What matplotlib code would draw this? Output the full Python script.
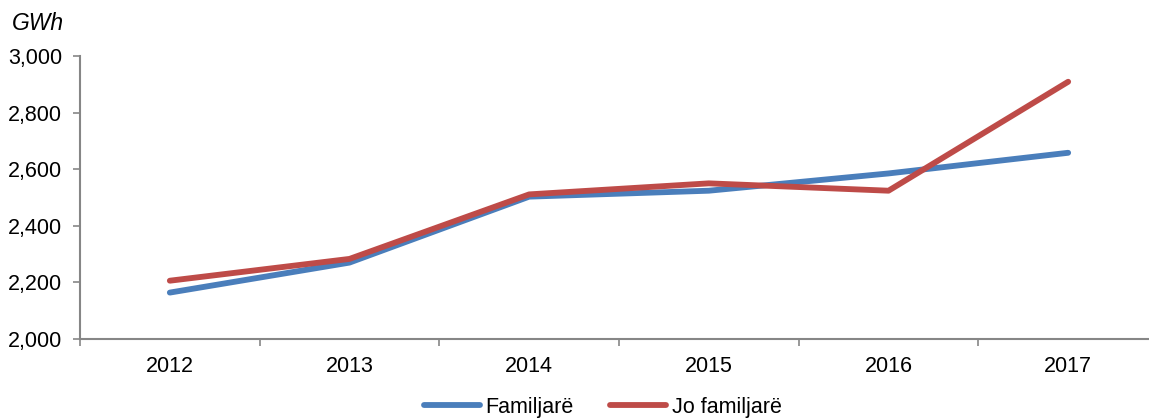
import matplotlib
matplotlib.use("Agg")
import matplotlib.pyplot as plt
from matplotlib.ticker import FuncFormatter

years = ["2012", "2013", "2014", "2015", "2016", "2017"]
familjare = [2164, 2270, 2503, 2524, 2585, 2658]
jo_familjare = [2206, 2283, 2511, 2550, 2524, 2909]
yticks = [2000, 2200, 2400, 2600, 2800, 3000]

plt.rcParams['font.family'] = ['Liberation Sans', 'DejaVu Sans']
FS = 15.5

W, H = 1149, 418
fig = plt.figure(figsize=(W / 100, H / 100), dpi=100)
ax = fig.add_axes([80 / W, (H - 339) / H, 1078 / W, (339 - 56) / H])

x = list(range(len(years)))
ax.plot(x, familjare, color='#4A7EBB', lw=4.2, solid_capstyle='round',
        solid_joinstyle='round', label='Familjarë')
ax.plot(x, jo_familjare, color='#BE4B48', lw=4.2, solid_capstyle='round',
        solid_joinstyle='round', label='Jo familjarë')

ax.set_xlim(-0.5, len(years) - 0.5)
ax.set_ylim(2000, 3000)
ax.set_yticks(yticks)
ax.yaxis.set_major_formatter(FuncFormatter(lambda v, p: f"{int(v):,}"))

ax.set_xticks([i - 0.5 for i in range(len(years) + 1)])
ax.set_xticklabels([])
ax.set_xticks(x, minor=True)
ax.set_xticklabels(years, minor=True)
ax.tick_params(axis='x', which='major', length=5, width=1.2, color='#868686', direction='out')
ax.tick_params(axis='x', which='minor', length=0, pad=12, labelsize=FS)
ax.tick_params(axis='y', length=5, width=1.2, color='#868686', direction='out', pad=8, labelsize=FS)

for s in ['top', 'right']:
    ax.spines[s].set_visible(False)
for s in ['left', 'bottom']:
    ax.spines[s].set_color('#868686')
    ax.spines[s].set_linewidth(1.5)

fig.text(38 / W, (H - 24) / H, 'GWh', fontsize=FS + 1, style='italic', ha='center', va='center')

leg = fig.legend(loc='center', bbox_to_anchor=(603 / W, (H - 407) / H), ncol=2, frameon=False,
                 fontsize=FS, handlelength=2.6, handletextpad=0.25, columnspacing=1.7,
                 borderpad=0)

fig.savefig('out.png', dpi=100)
